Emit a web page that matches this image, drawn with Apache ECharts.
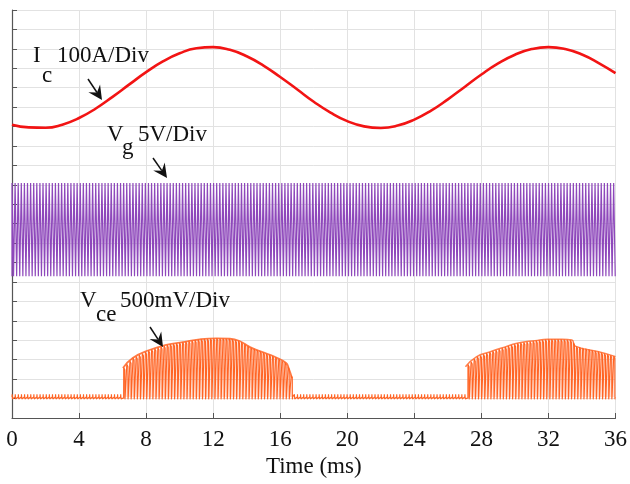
<!DOCTYPE html>
<html>
<head>
<meta charset="utf-8">
<script src="https://cdn.jsdelivr.net/npm/echarts@6/dist/echarts.min.js"></script>
<style>
html,body{margin:0;padding:0;background:#fff;}
#chart{width:630px;height:484px;}
</style>
</head>
<body>
<div id="chart"></div>
<script>
// ---- data (y in divisions, 0..21; x in ms) ----
const xTicks = [0, 4, 8, 12, 16, 20, 24, 28, 32, 36];
const icTime = [0,1,2,3,4,5,6,7,8,9,10,11,12,13,14,15,16,17,18,19,20,21,22,23,24,25,26,27,28,29,30,31,32,33,34,35,36];
const icValues = [15.10,14.96,14.94,15.10,15.44,15.93,16.53,17.17,17.80,18.35,18.77,19.03,19.09,18.95,18.62,18.14,17.55,16.92,16.28,15.72,15.28,15.01,14.93,15.05,15.36,15.82,16.40,17.04,17.68,18.25,18.70,18.99,19.09,18.99,18.71,18.27,17.75];
const vgLevels = [7.3, 12.1];          // low / high level of gate pulses
const switchPeriod = 0.185;            // ms
const vceBase = 1.08;
const vceHump1Time = [6.62,7.2,8.2,9.2,10.2,11.2,12.2,13.0,13.6,14.2,14.9,15.7,16.35,16.5,16.7];
const vceHump1 = [2.57,3.09,3.5,3.76,3.91,4.05,4.1,4.08,3.95,3.65,3.4,3.14,2.83,2.57,2.06];
const vceHump2Time = [27.05,27.7,28.5,29.2,30.2,31.2,31.95,32.8,33.4,33.6,35.0,36.0];
const vceHump2 = [2.64,3.15,3.4,3.6,3.86,3.98,4.05,4.05,4.01,3.7,3.41,3.16];

// ---- build series from the arrays ----
const icData = icTime.map((t, i) => [t, icValues[i]]);

const vgData = [];
for (let t = 0; t < 36; t += switchPeriod) {
  const t2 = Math.min(t + switchPeriod / 2, 36);
  vgData.push([t, vgLevels[0]], [t, vgLevels[1]], [t2, vgLevels[1]], [t2, vgLevels[0]]);
}

function envAt(ts, vs, t) {
  if (t < ts[0] || t > ts[ts.length - 1]) return null;
  for (let i = 0; i < ts.length - 1; i++) {
    if (t >= ts[i] && t <= ts[i + 1]) {
      const f = (t - ts[i]) / (ts[i + 1] - ts[i]);
      return vs[i] + f * (vs[i + 1] - vs[i]);
    }
  }
  return vs[vs.length - 1];
}
const vceData = [];
for (let t = 0; t < 36; t += switchPeriod) {
  let e = envAt(vceHump1Time, vceHump1, t);
  if (e === null) e = envAt(vceHump2Time, vceHump2, t);
  if (e !== null) {
    vceData.push([t, vceBase - 0.05], [t + 0.004, e], [t + 0.07, e - 0.12], [t + 0.075, vceBase - 0.12], [t + 0.09, vceBase]);
  } else {
    vceData.push([t, vceBase], [t + 0.01, vceBase + 0.14], [t + 0.03, vceBase - 0.1], [t + 0.05, vceBase]);
  }
}
const vceEnv1 = vceHump1Time.map((t, i) => [t, vceHump1[i]]);
const vceEnv2 = vceHump2Time.map((t, i) => [t, vceHump2[i]]);

// ---- annotations ----
const FONT = '"Liberation Serif", "Times New Roman", serif';
function txt(x, y, s) {
  return { type: 'text', x: x, y: y, style: { text: s, font: '23px ' + FONT, fill: '#111', verticalAlign: 'middle' }, z: 100 };
}
function arrow(x1, y1, x2, y2) {
  const dx = x2 - x1, dy = y2 - y1, L = Math.hypot(dx, dy);
  const ux = dx / L, uy = dy / L, px = -uy, py = ux;
  const len = 14, w = 7, notch = 5;
  const bx = x2 - ux * len, by = y2 - uy * len;
  const nx = x2 - ux * (len - notch), ny = y2 - uy * (len - notch);
  return [
    { type: 'line', shape: { x1: x1, y1: y1, x2: nx, y2: ny }, style: { stroke: '#111', lineWidth: 1.5 }, z: 100 },
    { type: 'polygon', shape: { points: [[x2, y2], [bx + px * w, by + py * w], [nx, ny], [bx - px * w, by - py * w]] }, style: { fill: '#111' }, z: 100 }
  ];
}

const chart = echarts.init(document.getElementById('chart'), null, { renderer: 'canvas' });
chart.setOption({
  animation: false,
  backgroundColor: '#fff',
  grid: { left: 12, right: 14, top: 10, bottom: 66 },
  xAxis: {
    type: 'value', min: 0, max: 36, interval: 4,
    name: 'Time (ms)', nameLocation: 'middle', nameGap: 36,
    nameTextStyle: { fontFamily: FONT, fontSize: 23, color: '#111' },
    axisLine: { show: true, onZero: false, lineStyle: { color: '#555', width: 1.2 } },
    axisTick: { show: true, inside: true, length: 5, lineStyle: { color: '#555' } },
    axisLabel: { fontFamily: FONT, fontSize: 23, color: '#111', margin: 10,
      formatter: v => xTicks.indexOf(v) >= 0 ? String(v) : '' },
    splitLine: { show: true, lineStyle: { color: '#e2e2e2', width: 1 } }
  },
  yAxis: {
    type: 'value', min: 0, max: 21, interval: 1,
    axisLine: { show: true, onZero: false, lineStyle: { color: '#555', width: 1.2 } },
    axisTick: { show: true, inside: true, length: 5, lineStyle: { color: '#555' } },
    axisLabel: { show: false },
    splitLine: { show: true, lineStyle: { color: '#e2e2e2', width: 1 } }
  },
  series: [
    { type: 'line', data: icData, smooth: true, showSymbol: false, lineStyle: { color: '#f21414', width: 2.6 }, z: 5 },
    { type: 'line', data: vgData, showSymbol: false, sampling: null, lineStyle: { color: '#8e48bb', width: 1.2 }, z: 4 },
    { type: 'line', data: vceData, showSymbol: false, lineStyle: { color: '#ff6424', width: 1.1 },
      areaStyle: { origin: vceBase, color: 'rgba(255,115,55,0.3)' }, z: 4 },
    { type: 'line', data: vceEnv1, smooth: true, showSymbol: false, lineStyle: { color: '#ff6424', width: 1.8, opacity: 0.85 }, z: 4 },
    { type: 'line', data: vceEnv2, smooth: true, showSymbol: false, lineStyle: { color: '#ff6424', width: 1.5, opacity: 0.8 }, z: 4 }
  ],
  graphic: [
    txt(33, 55.5, 'I'), txt(42, 75.5, 'c'), txt(57, 55.5, '100A/Div'),
    txt(107, 134.5, 'V'), txt(122, 148, 'g'), txt(138, 134.5, '5V/Div'),
    txt(80, 300.5, 'V'), txt(96, 314.5, 'ce'), txt(120, 300.5, '500mV/Div'),
    ...arrow(88, 79, 102, 100),
    ...arrow(153, 158, 167, 178),
    ...arrow(150, 327, 163, 347)
  ]
});
</script>
</body>
</html>
